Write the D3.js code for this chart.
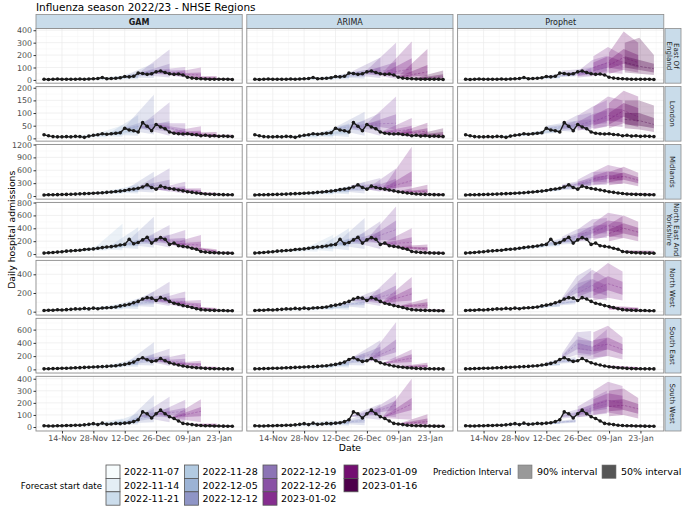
<!DOCTYPE html>
<html>
<head>
<meta charset="utf-8">
<script src="https://cdn.jsdelivr.net/npm/d3@7"></script>
<style>
body { margin: 0; background: #fff; }
text { font-family: "DejaVu Sans", sans-serif; }
</style>
</head>
<body>
<svg id="chart" width="685" height="508"></svg>
<script>
// ---- data ----
var regions = ["East Of England", "London", "Midlands", "North East And Yorkshire", "North West", "South East", "South West"];
var stripLabels = [["East Of", "England"], ["London"], ["Midlands"], ["North East And", "Yorkshire"], ["North West"], ["South East"], ["South West"]];
var models = ["GAM", "ARIMA", "Prophet"];
var forecastDates = ["2022-11-07", "2022-11-14", "2022-11-21", "2022-11-28", "2022-12-05", "2022-12-12",
                     "2022-12-19", "2022-12-26", "2023-01-02", "2023-01-09", "2023-01-16"];
var xTicks = ["2022-11-14", "2022-11-28", "2022-12-12", "2022-12-26", "2023-01-09", "2023-01-23"];
var yTicks = [[0, 100, 200, 300, 400], [0, 50, 100, 150, 200], [0, 300, 600, 900, 1200],
              [0, 200, 400, 600, 800], [0, 200, 400], [0, 200, 400, 600], [0, 100, 200, 300, 400]];
var yDomains = [[-26, 414], [-11, 205], [-72, 1202], [-47, 802], [-36, 549], [-55, 770], [-33, 420]];

// observed admissions, every second day from 2022-11-06
var obsStart = "2022-11-06";
var observed = {
  "East Of England": [5,4,6,8,5,6,5,6,7,6,8,10,12,20,10,12,14,18,28,25,30,55,52,45,50,65,72,60,50,45,48,40,22,15,12,10,8,6,5,6,5,5,4],
  "London": [14,10,7,6,6,7,6,8,7,4,9,12,14,18,16,18,20,22,40,33,30,25,62,48,30,55,45,38,25,20,18,17,18,15,14,10,12,9,10,8,9,8,7],
  "Midlands": [25,28,30,32,35,38,40,45,50,55,60,65,70,75,85,95,105,115,130,150,165,180,210,260,200,160,230,200,175,160,140,120,100,85,70,58,48,42,38,35,32,30,28],
  "North East And Yorkshire": [15,20,25,30,35,45,50,55,60,70,75,80,90,100,110,115,125,140,150,230,160,180,220,260,170,220,255,230,150,170,130,120,110,90,75,40,30,25,20,18,15,14,12],
  "North West": [12,15,15,20,18,22,25,30,28,35,30,38,32,40,42,45,50,62,70,80,95,110,135,150,145,120,150,135,110,90,80,65,55,45,32,22,18,15,14,12,12,10,10],
  "South East": [8,10,12,14,16,18,20,24,26,30,32,35,38,42,45,50,55,65,75,90,110,150,175,145,120,130,165,130,100,80,65,50,40,32,25,20,15,12,10,10,8,8,7],
  "South West": [10,8,8,10,10,12,12,15,14,18,22,28,20,32,22,25,30,28,32,35,45,60,125,110,75,110,140,110,85,70,50,30,25,20,15,12,10,10,8,8,7,6,6]
};

// forecasts: per start date, knots spread evenly over 14 days, each [lo90, lo50, median, hi50, hi90]
var gamForecasts = {
  "East Of England": [
    [[3,4,5,6,8],[0,3,6,10,18]], [[3,4,5,6,8],[0,3,6,10,18]], [[4,5,6,7,9],[0,4,8,13,22]],
    [[7,9,10,12,14],[2,8,14,22,35]], [[8,10,11,13,15],[5,15,25,35,55]], [[20,25,28,32,36],[15,35,55,80,135]],
    [[40,48,53,58,65],[20,50,80,130,245]], [[50,58,65,72,80],[20,40,60,80,105]], [[38,43,47,52,58],[10,25,40,60,100]],
    [[15,19,22,25,30],[0,5,12,20,32]], [[5,7,9,11,14],[0,2,5,8,15]]],
  "London": [
    [[10,11,12,13,14],[2,5,8,12,18]], [[5,6,6,7,8],[0,3,6,10,16]], [[6,7,7,8,9],[2,6,10,16,28]],
    [[10,11,12,13,14],[5,12,20,30,52]], [[14,16,17,18,20],[10,22,35,52,92]], [[35,38,40,42,45],[15,35,55,80,172]],
    [[40,43,45,47,50],[10,25,40,68,143]], [[50,53,55,57,60],[5,15,25,38,60]], [[20,22,24,26,28],[5,12,20,30,48]],
    [[15,16,18,20,22],[3,8,12,17,25]], [[9,10,11,12,13],[2,5,8,11,15]]],
  "Midlands": [
    [[22,24,26,28,30],[15,25,35,45,60]], [[30,33,35,37,40],[25,40,55,70,90]], [[42,45,47,49,52],[35,55,70,90,120]],
    [[58,62,65,68,72],[50,80,100,130,180]], [[80,86,90,94,100],[60,100,140,190,280]], [[120,126,130,134,140],[80,150,220,300,565]],
    [[220,230,235,240,250],[100,180,260,380,645]], [[150,155,160,165,170],[60,120,170,230,335]], [[155,160,165,170,175],[40,80,110,140,180]],
    [[90,95,100,105,110],[10,25,40,55,75]], [[40,43,45,47,50],[10,20,30,40,55]]],
  "North East And Yorkshire": [
    [[15,16,17,18,19],[20,30,40,50,65]], [[32,34,35,36,38],[35,50,60,75,100]], [[54,56,57,58,60],[50,70,85,105,160]],
    [[77,79,80,81,83],[60,90,120,160,470]], [[108,110,112,114,116],[80,120,160,220,415]], [[145,148,150,152,155],[100,160,220,300,580]],
    [[190,195,200,205,210],[100,160,220,300,450]], [[210,215,220,225,230],[80,140,190,250,373]], [[150,155,160,165,170],[50,100,140,190,295]],
    [[100,105,110,115,120],[10,25,40,55,75]], [[25,27,28,29,31],[5,12,20,28,40]]],
  "North West": [
    [[11,12,13,14,15],[5,10,15,20,28]], [[15,17,18,19,21],[10,16,22,28,38]], [[25,27,29,31,33],[15,25,35,45,60]],
    [[34,36,38,40,42],[20,35,50,65,90]], [[38,41,43,45,48],[30,50,70,95,140]], [[65,68,70,72,75],[50,80,110,145,215]],
    [[115,118,122,126,130],[60,100,140,200,320]], [[110,115,120,125,130],[40,80,110,150,215]], [[90,95,100,105,110],[20,45,65,90,125]],
    [[50,52,55,58,60],[5,12,20,28,40]], [[15,16,17,18,19],[2,6,10,14,20]]],
  "South East": [
    [[7,8,9,10,11],[5,10,15,20,28]], [[14,15,16,17,18],[10,18,25,32,42]], [[22,24,25,26,28],[15,28,40,52,70]],
    [[32,34,35,36,38],[25,40,55,72,100]], [[43,45,47,49,51],[40,65,90,120,180]], [[70,73,75,77,80],[60,110,160,230,410]],
    [[150,155,160,165,170],[50,100,150,210,310]], [[120,125,130,135,140],[30,70,110,160,235]], [[85,88,90,92,95],[20,45,70,95,130]],
    [[38,39,40,41,42],[5,12,20,28,40]], [[13,14,14,15,16],[2,6,10,14,20]]],
  "South West": [
    [[8,9,9,10,11],[3,7,10,14,20]], [[9,10,10,11,12],[5,10,15,20,28]], [[13,14,15,16,17],[8,15,22,30,42]],
    [[26,27,28,29,30],[15,25,35,48,70]], [[21,22,23,24,25],[20,35,50,70,115]], [[30,31,32,33,34],[40,70,100,150,265]],
    [[85,88,90,92,95],[40,80,110,160,250]], [[105,108,110,112,115],[40,90,130,160,225]], [[75,77,78,80,82],[40,90,130,165,230]],
    [[24,25,25,26,27],[3,8,14,20,30]], [[9,10,10,11,12],[1,4,7,10,14]]]
};

var arimaForecasts = {
  "East Of England": [
    [[3,4,5,6,8],[0,3,6,9,15]], [[3,4,5,6,8],[0,3,6,10,18]], [[4,5,6,7,9],[0,4,8,13,22]],
    [[7,9,10,12,14],[0,6,12,20,32]], [[8,10,11,13,15],[5,15,25,35,45]], [[20,25,28,32,36],[10,25,40,55,80]],
    [[40,48,53,58,65],[15,40,65,100,180]], [[50,58,65,72,80],[10,40,80,145,300]], [[38,43,47,52,58],[10,50,90,175,310]],
    [[15,19,22,25,30],[5,35,65,120,250]], [[5,7,9,11,14],[0,10,25,45,75]]],
  "London": [
    [[10,11,12,13,14],[0,4,8,12,18]], [[5,6,6,7,8],[0,3,6,9,14]], [[6,7,7,8,9],[0,4,8,12,20]],
    [[10,11,12,13,14],[2,8,15,22,35]], [[14,16,17,18,20],[5,15,25,38,60]], [[35,38,40,42,45],[10,30,50,70,105]],
    [[40,43,45,47,50],[10,30,50,70,100]], [[50,53,55,57,60],[10,35,60,95,165]], [[20,22,24,26,28],[5,20,35,50,80]],
    [[15,16,18,20,22],[5,15,28,40,62]], [[9,10,11,12,13],[0,8,15,25,40]]],
  "Midlands": [
    [[22,24,26,28,30],[10,20,30,40,55]], [[30,33,35,37,40],[15,30,40,50,70]], [[42,45,47,49,52],[20,40,55,70,95]],
    [[58,62,65,68,72],[30,55,80,105,150]], [[80,86,90,94,100],[40,80,120,160,230]], [[120,126,130,134,140],[60,120,170,220,320]],
    [[220,230,235,240,250],[100,170,230,300,420]], [[150,155,160,165,170],[80,180,280,400,640]], [[155,160,165,170,175],[80,230,360,580,1150]],
    [[90,95,100,105,110],[30,70,110,160,265]], [[40,43,45,47,50],[10,20,35,50,70]]],
  "North East And Yorkshire": [
    [[15,16,17,18,19],[5,15,25,35,50]], [[32,34,35,36,38],[20,35,45,60,80]], [[54,56,57,58,60],[30,55,75,100,150]],
    [[77,79,80,81,83],[40,80,110,150,300]], [[108,110,112,114,116],[60,120,170,240,400]], [[145,148,150,152,155],[80,160,230,330,560]],
    [[190,195,200,205,210],[80,170,250,350,510]], [[210,215,220,225,230],[100,220,380,520,740]], [[150,155,160,165,170],[40,110,180,260,400]],
    [[100,105,110,115,120],[20,50,80,110,150]], [[25,27,28,29,31],[0,8,15,25,40]]],
  "North West": [
    [[11,12,13,14,15],[0,8,14,20,28]], [[15,17,18,19,21],[5,12,20,28,38]], [[25,27,29,31,33],[10,20,30,40,55]],
    [[34,36,38,40,42],[15,30,42,55,75]], [[38,41,43,45,48],[20,40,55,70,95]], [[65,68,70,72,75],[40,70,95,115,140]],
    [[115,118,122,126,130],[60,110,150,190,245]], [[110,115,120,125,130],[60,140,200,280,425]], [[90,95,100,105,110],[50,120,190,260,370]],
    [[50,52,55,58,60],[10,40,70,100,140]], [[15,16,17,18,19],[0,5,12,20,30]]],
  "South East": [
    [[7,8,9,10,11],[0,6,12,18,26]], [[14,15,16,17,18],[5,12,20,28,38]], [[22,24,25,26,28],[8,20,32,45,60]],
    [[32,34,35,36,38],[15,30,45,60,80]], [[43,45,47,49,51],[30,55,75,100,130]], [[70,73,75,77,80],[60,110,150,190,250]],
    [[150,155,160,165,170],[120,200,260,340,440]], [[120,125,130,135,140],[150,260,330,450,710]], [[85,88,90,92,95],[40,110,170,230,300]],
    [[38,39,40,41,42],[10,30,50,70,100]], [[13,14,14,15,16],[0,5,10,16,24]]],
  "South West": [
    [[8,9,9,10,11],[0,5,10,15,22]], [[9,10,10,11,12],[0,6,12,18,25]], [[13,14,15,16,17],[2,10,18,26,36]],
    [[26,27,28,29,30],[5,18,30,42,58]], [[21,22,23,24,25],[10,22,35,48,65]], [[30,31,32,33,34],[15,35,55,75,100]],
    [[85,88,90,92,95],[60,100,130,160,190]], [[105,108,110,112,115],[80,140,180,220,265]], [[75,77,78,80,82],[60,140,190,240,400]],
    [[24,25,25,26,27],[5,25,45,70,105]], [[9,10,10,11,12],[0,4,8,13,20]]]
};

var prophetForecasts = {
  "East Of England": [
    [[2,3,5,6,8],[2,4,6,8,10],[2,4,6,8,11]], [[2,3,5,6,8],[3,4,6,8,10],[3,5,7,9,12]], [[3,5,6,8,10],[4,6,8,10,12],[5,7,9,11,14]],
    [[6,8,10,12,15],[7,10,12,15,18],[8,11,14,17,21]], [[8,10,12,14,17],[10,13,16,19,23],[12,16,20,25,32]],
    [[20,24,28,32,37],[24,29,34,40,48],[28,35,42,50,60]], [[30,40,50,60,75],[35,45,55,65,85],[35,50,60,75,100]],
    [[20,30,40,55,70],[30,50,70,100,160],[40,70,100,140,195]], [[40,70,100,140,190],[60,100,140,190,266],[50,80,110,150,200]],
    [[50,90,120,160,220],[80,130,180,250,390],[60,100,140,200,300]], [[60,100,140,190,300],[50,80,110,160,340],[40,60,90,130,200]]],
  "London": [
    [[8,10,12,14,16],[6,8,10,12,14],[5,7,9,11,13]], [[4,5,6,7,9],[4,5,7,8,10],[5,6,8,10,12]], [[5,6,8,9,11],[7,9,11,13,15],[9,11,13,15,18]],
    [[9,11,13,15,17],[12,14,17,20,23],[14,17,20,24,28]], [[13,15,18,21,24],[18,21,25,29,34],[22,26,30,35,42]],
    [[30,35,40,45,50],[30,38,45,52,60],[25,35,45,55,70]], [[30,38,45,52,60],[35,45,55,70,90],[30,45,60,75,100]],
    [[30,40,50,65,90],[40,55,70,95,125],[45,60,80,110,151]], [[35,50,65,90,125],[50,70,90,120,165],[45,65,85,115,150]],
    [[40,55,75,100,140],[60,85,110,140,188],[45,65,85,120,165]], [[40,55,75,100,150],[35,50,70,100,150],[25,40,55,80,130]]],
  "Midlands": [
    [[20,23,26,29,32],[24,27,30,33,37],[28,31,35,39,43]], [[28,32,35,38,42],[35,39,43,47,52],[42,47,52,57,63]],
    [[40,44,47,50,55],[48,53,58,63,70],[58,64,70,76,85]], [[55,60,65,70,76],[70,77,84,91,100],[85,94,103,112,125]],
    [[80,86,92,98,105],[100,110,120,130,145],[120,133,146,160,180]], [[115,125,132,140,150],[140,155,170,185,205],[160,180,200,220,250]],
    [[190,210,230,250,270],[210,240,270,300,340],[220,260,300,340,400]], [[200,240,280,320,380],[250,320,380,450,560],[260,330,400,470,580]],
    [[260,330,400,470,560],[300,400,480,580,720],[280,360,440,530,650]], [[250,320,390,460,560],[300,380,460,550,680],[230,300,370,440,540]],
    [[30,40,50,60,75],[25,35,45,55,70],[20,30,40,50,65]]],
  "North East And Yorkshire": [
    [[14,16,18,20,22],[20,23,26,29,33],[25,29,33,37,42]], [[30,33,36,39,42],[40,44,48,52,58],[48,53,58,64,72]],
    [[50,54,58,62,67],[62,68,74,80,88],[72,80,88,96,106]], [[72,77,82,87,93],[88,96,104,112,122],[100,110,120,130,145]],
    [[100,110,115,120,130],[110,125,135,145,160],[120,135,150,165,185]], [[140,150,160,170,185],[150,170,190,210,240],[160,185,210,240,280]],
    [[180,200,220,240,270],[200,240,280,320,380],[200,250,300,350,420]], [[200,240,280,320,380],[250,320,380,440,540],[250,320,390,460,560]],
    [[220,280,340,400,480],[280,360,440,520,640],[250,330,410,490,600]], [[200,260,320,380,460],[250,320,400,480,600],[200,270,340,410,500]],
    [[20,30,40,50,60],[15,25,35,45,55],[10,20,30,40,50]]],
  "North West": [
    [[10,12,13,15,17],[13,15,17,19,22],[15,17,20,23,26]], [[15,17,19,21,23],[19,22,24,27,30],[22,25,28,31,35]],
    [[24,27,29,31,34],[28,31,34,37,41],[32,35,39,43,48]], [[32,35,38,41,44],[36,40,44,48,53],[40,44,49,54,60]],
    [[38,41,44,47,51],[45,50,55,60,66],[52,58,64,70,78]], [[60,65,70,75,80],[70,80,90,100,115],[80,95,110,125,145]],
    [[100,115,125,135,150],[150,200,250,300,380],[150,220,280,350,470]], [[120,160,200,250,320],[150,220,280,350,450],[120,170,220,280,360]],
    [[120,170,230,300,400],[150,230,300,380,520],[120,180,250,320,430]], [[20,30,40,50,60],[15,25,35,45,55],[10,20,28,36,45]],
    [[5,8,12,16,20],[4,7,10,14,18],[3,6,9,12,16]]],
  "South East": [
    [[7,8,9,10,12],[10,11,13,15,17],[12,14,16,18,21]], [[13,15,16,17,19],[17,19,21,23,26],[20,23,25,28,32]],
    [[21,23,25,27,29],[26,29,32,35,39],[30,34,37,41,46]], [[30,33,35,37,40],[37,41,45,49,54],[44,49,54,59,66]],
    [[42,45,48,51,54],[52,57,62,67,74],[60,67,74,81,90]], [[70,80,90,100,110],[90,105,120,135,155],[100,120,140,160,185]],
    [[150,170,190,210,240],[220,300,380,450,560],[200,280,350,430,580]], [[180,250,320,400,500],[150,220,280,340,420],[200,300,380,470,600]],
    [[180,270,350,440,560],[200,300,380,480,660],[150,230,300,380,480]], [[20,30,40,50,60],[15,22,30,38,48],[10,16,22,28,36]],
    [[5,8,12,16,20],[4,7,10,13,17],[3,6,8,11,14]]],
  "South West": [
    [[7,8,9,10,12],[8,9,10,12,14],[9,10,12,14,16]], [[8,9,10,12,13],[10,11,13,15,17],[12,14,16,18,20]],
    [[12,14,15,17,19],[15,17,19,21,24],[18,20,23,26,29]], [[22,25,27,29,32],[24,27,30,33,36],[25,28,32,35,40]],
    [[20,22,24,26,28],[23,26,28,31,34],[26,29,32,35,39]], [[25,28,32,36,40],[30,35,40,45,52],[35,42,50,58,68]],
    [[70,80,90,100,115],[80,95,110,125,145],[90,110,130,150,180]], [[80,100,120,140,170],[100,130,160,190,240],[110,150,190,230,300]],
    [[100,140,180,230,300],[120,170,220,280,375],[100,150,200,260,340]], [[90,130,170,220,300],[100,140,180,230,320],[70,110,150,190,240]],
    [[5,7,9,11,14],[4,6,8,10,13],[3,5,7,9,12]]]
};

// ---- layout ----
var colX = [36, 246.8, 457.6];
var panelW = 206.2;
var plotTop = 28.5, panelH = 54.67, rowGap = 3.3;
function rowTop(i) { return plotTop + i * (panelH + rowGap); }

var parse = d3.utcParse("%Y-%m-%d");
var DAY = 864e5;
var palette = d3.quantize(d3.interpolateBuPu, forecastDates.length);
var fcSets = { "GAM": gamForecasts, "ARIMA": arimaForecasts, "Prophet": prophetForecasts };

var xStart = new Date(Date.UTC(2022, 10, 2, 10));
var x = d3.scaleUtc().domain([xStart, new Date(+xStart + 92 * DAY)]).range([0, panelW]);
var majorX = xTicks.map(parse);
var minorX = ["2022-11-07", "2022-11-21", "2022-12-05", "2022-12-19", "2023-01-02", "2023-01-16", "2023-01-30"].map(parse);

var svg = d3.select("#chart");

svg.append("text")
  .attr("x", 36).attr("y", 10.5)
  .attr("font-size", 10.5).attr("fill", "#000")
  .text("Influenza season 2022/23 - NHSE Regions");

// top strips
models.forEach(function(m, mi) {
  svg.append("rect")
    .attr("x", colX[mi]).attr("y", 14.5).attr("width", panelW).attr("height", 14)
    .attr("fill", "#c9dcea").attr("stroke", "#8c8c8c").attr("stroke-width", 0.8);
  svg.append("text")
    .attr("x", colX[mi] + panelW / 2).attr("y", 24.6)
    .attr("text-anchor", "middle").attr("font-size", 8)
    .attr("font-weight", mi === 0 ? "bold" : "normal")
    .attr("fill", "#1a1a1a")
    .text(m);
});

regions.forEach(function(reg, ri) {
  var top = rowTop(ri);
  var y = d3.scaleLinear().domain(yDomains[ri]).range([panelH, 0]);
  var ticks = yTicks[ri];
  var step = ticks[1] - ticks[0];
  var minorY = [];
  for (var v = ticks[0] - step / 2; v <= yDomains[ri][1]; v += step) {
    if (v >= yDomains[ri][0]) minorY.push(v);
  }
  var obs = observed[reg].map(function(val, i) {
    return { date: d3.utcDay.offset(parse(obsStart), i * 2), value: val };
  });

  models.forEach(function(mod, mi) {
    var g = svg.append("g").attr("transform", "translate(" + colX[mi] + "," + top + ")");
    var clipId = "clip-" + ri + "-" + mi;
    g.append("clipPath").attr("id", clipId)
      .append("rect").attr("width", panelW).attr("height", panelH);

    g.append("rect").attr("width", panelW).attr("height", panelH).attr("fill", "#fff");

    var grid = g.append("g");
    grid.selectAll(".mny").data(minorY).enter().append("line")
      .attr("x1", 0).attr("x2", panelW)
      .attr("y1", function(d) { return y(d); }).attr("y2", function(d) { return y(d); })
      .attr("stroke", "#f3f3f3").attr("stroke-width", 0.4);
    grid.selectAll(".mnx").data(minorX).enter().append("line")
      .attr("y1", 0).attr("y2", panelH)
      .attr("x1", function(d) { return x(d); }).attr("x2", function(d) { return x(d); })
      .attr("stroke", "#f3f3f3").attr("stroke-width", 0.4);
    grid.selectAll(".mjy").data(ticks).enter().append("line")
      .attr("x1", 0).attr("x2", panelW)
      .attr("y1", function(d) { return y(d); }).attr("y2", function(d) { return y(d); })
      .attr("stroke", "#ebebeb").attr("stroke-width", 0.7);
    grid.selectAll(".mjx").data(majorX).enter().append("line")
      .attr("y1", 0).attr("y2", panelH)
      .attr("x1", function(d) { return x(d); }).attr("x2", function(d) { return x(d); })
      .attr("stroke", "#ebebeb").attr("stroke-width", 0.7);

    var body = g.append("g").attr("clip-path", "url(#" + clipId + ")");
    var area90 = d3.area().x(function(d) { return x(d.date); })
      .y0(function(d) { return y(d.q[0]); }).y1(function(d) { return y(d.q[4]); });
    var area50 = d3.area().x(function(d) { return x(d.date); })
      .y0(function(d) { return y(d.q[1]); }).y1(function(d) { return y(d.q[3]); });
    var medLine = d3.line().x(function(d) { return x(d.date); }).y(function(d) { return y(d.q[2]); });

    var fcs = fcSets[mod][reg];
    var paths = fcs.map(function(knots, fi) {
      var start = parse(forecastDates[fi]);
      var n = knots.length;
      return knots.map(function(q, j) {
        return { date: new Date(+start + j * 13 / (n - 1) * DAY), q: q };
      });
    });
    paths.forEach(function(pts, fi) {
      body.append("path").attr("d", area90(pts))
        .attr("fill", palette[fi]).attr("fill-opacity", 0.26);
      body.append("path").attr("d", area50(pts))
        .attr("fill", palette[fi]).attr("fill-opacity", 0.32);
    });
    paths.forEach(function(pts, fi) {
      body.append("path").attr("d", medLine(pts))
        .attr("fill", "none").attr("stroke", palette[fi]).attr("stroke-opacity", 0.6)
        .attr("stroke-width", 0.6).attr("stroke-dasharray", "2.5,1.5");
    });

    body.append("path").datum(obs)
      .attr("d", d3.line().x(function(d) { return x(d.date); }).y(function(d) { return y(d.value); }))
      .attr("fill", "none").attr("stroke", "#1a1a1a").attr("stroke-width", 1.4);
    body.selectAll(".obs").data(obs).enter().append("circle")
      .attr("cx", function(d) { return x(d.date); })
      .attr("cy", function(d) { return y(d.value); })
      .attr("r", 1.8).attr("fill", "#1a1a1a");

    g.append("rect").attr("width", panelW).attr("height", panelH)
      .attr("fill", "none").attr("stroke", "#8c8c8c").attr("stroke-width", 0.9);

    if (mi === 0) {
      var ya = g.append("g").call(d3.axisLeft(y).tickValues(ticks).tickFormat(d3.format("d"))
        .tickSize(2.5).tickPadding(1.5));
      ya.select(".domain").remove();
      ya.selectAll("line").attr("stroke", "#333");
      ya.selectAll("text").attr("font-size", 7.9).attr("fill", "#4d4d4d")
        .attr("font-family", "DejaVu Sans");
    }
    if (ri === regions.length - 1) {
      var xa = g.append("g").attr("transform", "translate(0," + panelH + ")")
        .call(d3.axisBottom(x).tickValues(majorX).tickFormat(d3.utcFormat("%d-%b")).tickSize(2.5).tickPadding(1.5));
      xa.select(".domain").remove();
      xa.selectAll("line").attr("stroke", "#333");
      xa.selectAll("text").attr("font-size", 7.9).attr("fill", "#4d4d4d")
        .attr("font-family", "DejaVu Sans");
    }
  });

  // right strip
  var sx = colX[2] + panelW + 1.2;
  svg.append("rect").attr("x", sx).attr("y", top).attr("width", 16).attr("height", panelH)
    .attr("fill", "#c9dcea").attr("stroke", "#8c8c8c").attr("stroke-width", 0.8);
  var lines = stripLabels[ri];
  var st = svg.append("text")
    .attr("transform", "translate(" + (sx + 8) + "," + (top + panelH / 2) + ") rotate(90)")
    .attr("text-anchor", "middle").attr("font-size", 7.1).attr("fill", "#1a1a1a");
  lines.forEach(function(l, li) {
    st.append("tspan").attr("x", 0)
      .attr("y", lines.length === 1 ? 2.6 : (li === 0 ? -1.4 : 6.4))
      .text(l);
  });
});

// axis titles
svg.append("text").attr("x", colX[0] + (colX[2] + panelW - colX[0]) / 2).attr("y", 451)
  .attr("text-anchor", "middle").attr("font-size", 9.3).attr("fill", "#000").text("Date");
svg.append("text").attr("transform", "translate(14.5," + (plotTop + (7 * panelH + 6 * rowGap) / 2) + ") rotate(-90)")
  .attr("text-anchor", "middle").attr("font-size", 9.3).attr("fill", "#000").text("Daily hospital admissions");

// legend: forecast start date
var leg = svg.append("g");
leg.append("text").attr("x", 102).attr("y", 488.5).attr("text-anchor", "end")
  .attr("font-size", 8.6).attr("fill", "#000").text("Forecast start date");
var legCols = [106, 184.5, 263, 344];
forecastDates.forEach(function(d, i) {
  var cx = legCols[Math.floor(i / 3)];
  var cy = 465 + (i % 3) * 13.4;
  leg.append("rect").attr("x", cx).attr("y", cy).attr("width", 14).attr("height", 13.4)
    .attr("fill", palette[i]).attr("stroke", "#555").attr("stroke-width", 0.8);
  leg.append("text").attr("x", cx + 18).attr("y", cy + 10.3)
    .attr("font-size", 9.5).attr("fill", "#000").text(d);
});

// legend: prediction interval
leg.append("text").attr("x", 433).attr("y", 475)
  .attr("font-size", 8.6).attr("fill", "#000").text("Prediction Interval");
[["90% interval", "#999999", 518], ["50% interval", "#555555", 602]].forEach(function(it) {
  leg.append("rect").attr("x", it[2]).attr("y", 465).attr("width", 14).attr("height", 13.4)
    .attr("fill", it[1]).attr("stroke", "#777").attr("stroke-width", 0.6);
  leg.append("text").attr("x", it[2] + 19).attr("y", 475.3)
    .attr("font-size", 9.5).attr("fill", "#000").text(it[0]);
});
</script>
</body>
</html>
